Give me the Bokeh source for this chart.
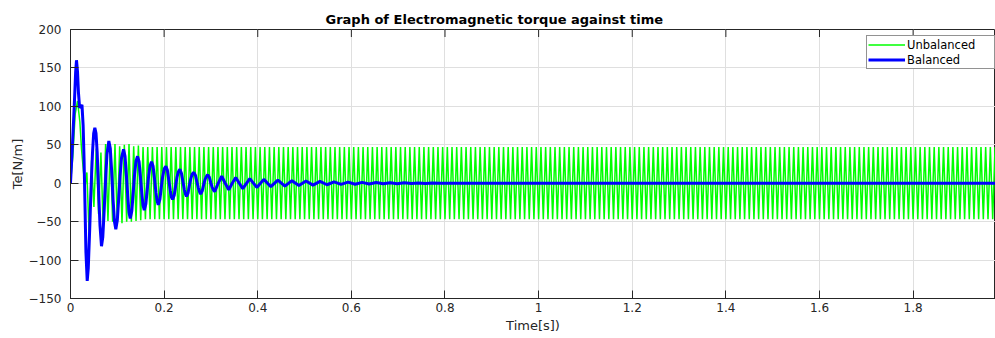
import math
from bokeh.plotting import figure
from bokeh.models import FixedTicker, Legend, LegendItem, Range1d, ColumnDataSource
from bokeh.embed import file_html
from bokeh.resources import INLINE

# ---------------- data ----------------
title_text = "Graph of Electromagnetic torque against time"
x_label = "Time[s])"
y_label = "Te[N/m]"
x_ticks = [0, 0.2, 0.4, 0.6, 0.8, 1.0, 1.2, 1.4, 1.6, 1.8]
x_tick_labels = ["0", "0.2", "0.4", "0.6", "0.8", "1", "1.2", "1.4", "1.6", "1.8"]
y_ticks = [-150, -100, -50, 0, 50, 100, 150, 200]
x_end = 1.976

# Unbalanced: start-up part (read point by point)
unb_t_start = [0.0, 0.005, 0.010, 0.015, 0.020, 0.0235, 0.027, 0.031]
unb_v_start = [0, 35, 90, 107, 80, 45, 20, -5]
# Unbalanced: successive peaks / troughs of the 100 Hz ripple, one every 5 ms from 0.035 s
unb_ripple_start = 0.035
unb_ripple_step = 0.005
unb_ripple = [
    14, -70, 30, -31, 45, -40, 40, -61, 51, -49, 50, -50, 51, -52, 48, -52, 50, -50, 51, -50,
    48, -49, 49, -48,
    47, -47, 47, -47, 47, -47, 47, -47, 47, -47, 47, -47, 47, -47, 47, -47, 47, -47, 47, -47,
    47, -47, 47, -47, 47, -47, 47, -47, 47, -47, 47, -47, 47, -47, 47, -47, 47, -47, 47, -47,
    47, -47, 47, -47, 47, -47, 47, -47, 47, -47, 47, -47, 47, -47, 47, -47, 47, -47, 47, -47,
    47, -47, 47, -47, 47, -47, 47, -47, 47, -47, 47, -47, 47, -47, 47, -47, 47, -47, 47, -47,
    47, -47, 47, -47, 47, -47, 47, -47, 47, -47, 47, -47, 47, -47, 47, -47, 47, -47, 47, -47,
    47, -47, 47, -47, 47, -47, 47, -47, 47, -47, 47, -47, 47, -47, 47, -47, 47, -47, 47, -47,
    47, -47, 47, -47, 47, -47, 47, -47, 47, -47, 47, -47, 47, -47, 47, -47, 47, -47, 47, -47,
    47, -47, 47, -47, 47, -47, 47, -47, 47, -47, 47, -47, 47, -47, 47, -47, 47, -47, 47, -47,
    47, -47, 47, -47, 47, -47, 47, -47, 47, -47, 47, -47, 47, -47, 47, -47, 47, -47, 47, -47,
    47, -47, 47, -47, 47, -47, 47, -47, 47, -47, 47, -47, 47, -47, 47, -47, 47, -47, 47, -47,
    47, -47, 47, -47, 47, -47, 47, -47, 47, -47, 47, -47, 47, -47, 47, -47, 47, -47, 47, -47,
    47, -47, 47, -47, 47, -47, 47, -47, 47, -47, 47, -47, 47, -47, 47, -47, 47, -47, 47, -47,
    47, -47, 47, -47, 47, -47, 47, -47, 47, -47, 47, -47, 47, -47, 47, -47, 47, -47, 47, -47,
    47, -47, 47, -47, 47, -47, 47, -47, 47, -47, 47, -47, 47, -47, 47, -47, 47, -47, 47, -47,
    47, -47, 47, -47, 47, -47, 47, -47, 47, -47, 47, -47, 47, -47, 47, -47, 47, -47, 47, -47,
    47, -47, 47, -47, 47, -47, 47, -47, 47, -47, 47, -47, 47, -47, 47, -47, 47, -47, 47, -47,
    47, -47, 47, -47, 47, -47, 47, -47, 47, -47, 47, -47, 47, -47, 47, -47, 47, -47, 47, -47,
    47, -47, 47, -47, 47, -47, 47, -47, 47, -47, 47, -47, 47, -47, 47, -47, 47, -47, 47, -47,
    47, -47, 47, -47, 47,
]

# Balanced: damped oscillation (time, value)
bal_t = [
    0.0, 0.004, 0.008, 0.011, 0.0128, 0.015, 0.017, 0.0195, 0.022, 0.0245, 0.027, 0.029,
    0.031, 0.033, 0.0357, 0.038, 0.041, 0.044, 0.047, 0.0495, 0.052, 0.0545, 0.057, 0.060,
    0.063, 0.0662, 0.069, 0.072, 0.075, 0.078, 0.0819, 0.085, 0.088, 0.091, 0.094, 0.0968,
    0.100, 0.103, 0.106, 0.109, 0.1133, 0.1165, 0.1195, 0.1225, 0.125, 0.1276, 0.131, 0.134,
    0.137, 0.140, 0.1432, 0.1465, 0.1495, 0.1525, 0.155, 0.1575, 0.161, 0.164, 0.167, 0.170,
    0.1731, 0.1765, 0.1795, 0.1825, 0.185, 0.1874, 0.191, 0.194, 0.197, 0.2005, 0.2037, 0.207,
    0.210, 0.213, 0.2155, 0.218, 0.2215, 0.2245, 0.2275, 0.2305, 0.2336, 0.237, 0.240, 0.243,
    0.2455, 0.2479, 0.251, 0.254, 0.257, 0.260, 0.2635, 0.267, 0.270, 0.273, 0.2755, 0.278,
    0.2815, 0.2845, 0.2875, 0.2905, 0.293, 0.2965, 0.2995, 0.3025, 0.3055, 0.308, 0.3155, 0.323,
    0.3305, 0.338, 0.3455, 0.353, 0.3605, 0.368, 0.383, 0.398, 0.413, 0.428, 0.443, 0.458,
    0.473, 0.488, 0.503, 0.518, 0.533, 0.548, 0.563, 0.578, 0.593, 0.608, 0.623, 0.638,
    0.653, 0.668, 0.683, 0.698, 0.713, 0.728, 0.743, 0.758, 0.773, 0.788, 0.80, 1.976,
]
bal_v = [
    0, 48, 100, 145, 160, 145, 118, 98, 100, 102, 75, 30,
    -30, -90, -127, -110, -60, -5, 40, 65, 72, 65, 40, -10,
    -55, -82, -70, -35, 5, 38, 55, 45, 15, -22, -50, -60,
    -48, -20, 10, 33, 44, 35, 10, -18, -38, -46, -36, -12,
    12, 29, 35, 28, 8, -14, -29, -35, -27, -8, 10, 23,
    28, 22, 6, -12, -23, -28, -21, -5, 9, 19, 22, 17,
    4, -9, -18, -21, -16, -4, 8, 15, 18, 13, 3, -8,
    -14, -17, -13, -3, 6, 12, 14, 10, 2, -6, -11, -14,
    -10, -2, 5, 9, 11, 8, 1, -5, -9, -11, 0, 9,
    0, -8.5, 0, 7.5, 0, -7, 6, -5.5, 5, -4.5, 4, -3.8,
    3.3, -3, 2.8, -2.5, 2.3, -2, 1.8, -1.6, 1.4, -1.3, 1.1, -1,
    0.9, -0.8, 0.7, -0.6, 0.5, -0.4, 0.3, -0.3, 0.2, -0.2, 0, 0,
]

# ---------------- build series ----------------
unb_t = list(unb_t_start) + [unb_ripple_start + unb_ripple_step * i for i in range(len(unb_ripple))]
unb_v = list(unb_v_start) + list(unb_ripple)

FONT = "DejaVu Sans"
DARK = "#262626"

p = figure(width=995, height=338, output_backend="svg", toolbar_location=None,
           x_range=Range1d(0, x_end), y_range=Range1d(y_ticks[0], y_ticks[-1]),
           min_border_left=70, min_border_right=0, min_border_top=29, min_border_bottom=40,
           x_axis_label=x_label, y_axis_label=y_label)
p.outline_line_color = DARK
p.background_fill_color = "white"

# title
p.title.text = title_text
p.title.text_font = FONT
p.title.text_font_size = "13px"
p.title.text_font_style = "bold"
p.title.text_color = "#000000"
p.title.align = "left"
p.title.offset = 255
p.title.standoff = 6

xa = p.below[0]
ya = p.left[0]
for ax in (xa, ya):
    ax.major_tick_in = 8
    ax.major_tick_out = 0
    ax.minor_tick_line_color = None
    ax.axis_line_color = DARK
    ax.major_tick_line_color = DARK
    ax.major_label_text_font = FONT
    ax.major_label_text_font_size = "12px"
    ax.major_label_text_color = DARK
    ax.axis_label_text_font = FONT
    ax.axis_label_text_font_size = "13px"
    ax.axis_label_text_font_style = "normal"
    ax.axis_label_text_color = DARK

xa.ticker = FixedTicker(ticks=x_ticks)
xa.major_label_overrides = {t: s for t, s in zip(x_ticks, x_tick_labels)}
xa.major_label_standoff = 4
xa.axis_label_standoff = 3
ya.ticker = FixedTicker(ticks=y_ticks)
ya.major_label_standoff = 9
ya.axis_label_standoff = 1

p.xgrid.ticker = FixedTicker(ticks=x_ticks)
p.ygrid.ticker = FixedTicker(ticks=y_ticks)
for g in (p.xgrid[0], p.ygrid[0]):
    g.grid_line_color = "#dfdfdf"
    g.grid_line_width = 1

src_u = ColumnDataSource(dict(t=unb_t, v=unb_v))
src_b = ColumnDataSource(dict(t=bal_t, v=bal_v))
r_u = p.line("t", "v", source=src_u, line_color="#00ff00", line_width=1.5)
r_b = p.line("t", "v", source=src_b, line_color="#0000ff", line_width=3)

# inward tick marks along the top edge of the box (MATLAB style); half is clipped by the frame
p.scatter(x=x_ticks, y=[y_ticks[-1]] * len(x_ticks), marker="dash", angle=math.pi / 2,
          size=15, line_color=DARK, line_width=1)

legend = Legend(items=[LegendItem(label="Unbalanced", renderers=[r_u]),
                       LegendItem(label="Balanced", renderers=[r_b])],
                location=(796, 229))
legend.border_line_color = DARK
legend.border_line_width = 1
legend.background_fill_color = "white"
legend.background_fill_alpha = 1
legend.label_text_font = FONT
legend.label_text_font_size = "11.5px"
legend.label_text_color = "#000000"
legend.glyph_width = 37
legend.glyph_height = 15
legend.label_height = 15
legend.label_width = 86
legend.label_standoff = 2
legend.padding = 1
legend.spacing = 0
legend.margin = 0
p.add_layout(legend)

open("out.html", "w").write(file_html(p, INLINE))
